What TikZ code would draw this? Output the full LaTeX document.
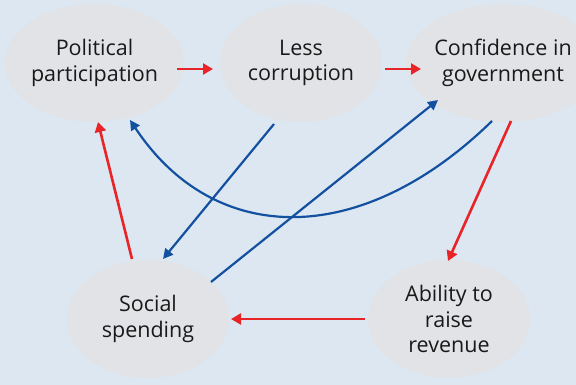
\documentclass[tikz,border=0pt]{standalone}
\usepackage{fontspec}
\setmainfont{Open Sans}
\usetikzlibrary{arrows.meta,shapes.geometric}
\definecolor{bgblue}{RGB}{220,231,242}
\definecolor{ellgray}{RGB}{225,227,230}
\definecolor{arrred}{RGB}{232,36,40}
\definecolor{arrblue}{RGB}{20,80,160}
\tikzset{
  bubble/.style={ellipse, fill=ellgray, draw=none, minimum width=162pt, minimum height=118pt, inner sep=0pt, align=center, font=\fontsize{21.5}{25.5}\selectfont, text=black!90},
  redarrow/.style={draw=arrred, line width=2.6pt, -{Triangle[length=10pt,width=11pt]}},
  bluearrow/.style={draw=arrblue, line width=2.2pt, -{Triangle[length=10pt,width=10pt]}}
}
\begin{document}
\begin{tikzpicture}[x=1pt,y=-1pt]
\useasboundingbox (0,0) rectangle (576,385);
\clip (0,0) rectangle (576,385);
\fill[bgblue] (0,0) rectangle (576,385);
\node[bubble] (pp) at (94.5,63) {Political\\participation};
\node[bubble] (lc) at (301,63) {Less\\corruption};
\node[bubble] (cg) at (503,63) {Confidence in\\government};
\node[bubble] (ss) at (148,319) {Social\\spending};
\node[bubble] (ar) at (449,319) {Ability to\\raise\\revenue};
% red arrows
\draw[redarrow] ([shift={(82.5,6)}]pp.center) -- ([shift={(-88,6)}]lc.center);
\draw[redarrow] ([shift={(84,6)}]lc.center) -- ([shift={(-82,6)}]cg.center);
\draw[redarrow] ([shift={(8,58)}]cg.center) -- ([shift={(-1,-58)}]ar.center);
\draw[redarrow] ([shift={(-84,0)}]ar.center) -- ([shift={(83,0)}]ss.center);
\draw[redarrow] ([shift={(-16,-60)}]ss.center) -- ([shift={(3.5,59)}]pp.center);
% blue arrows
\draw[bluearrow] ([shift={(-27,61)}]lc.center) -- ([shift={(15,-60)}]ss.center);
\draw[bluearrow] ([shift={(63,-37)}]ss.center) -- ([shift={(-65,37)}]cg.center);
\draw[bluearrow] ([shift={(-11,58)}]cg.center) .. controls (362,248) and (215,248) .. ([shift={(35.5,57)}]pp.center);
\end{tikzpicture}
\end{document}
